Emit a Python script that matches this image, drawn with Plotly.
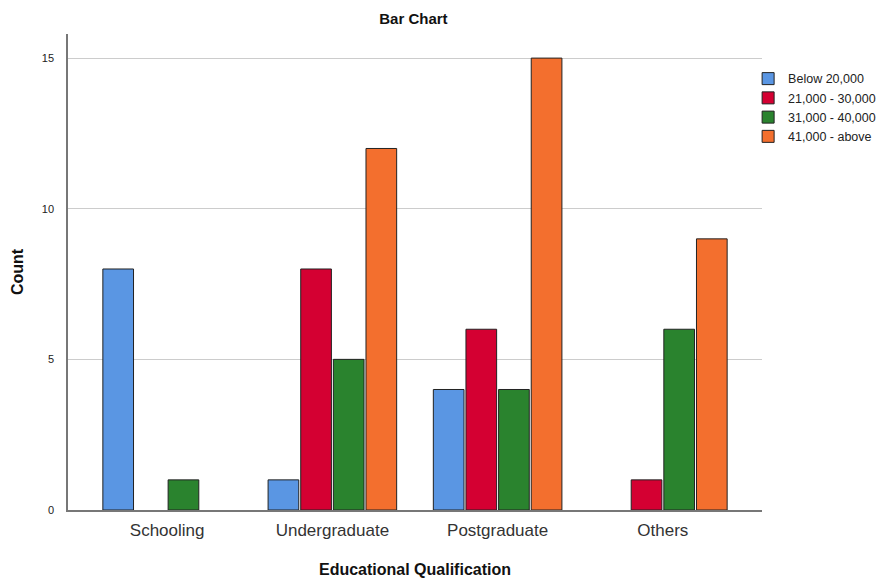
import plotly.graph_objects as go

categories = ["Schooling", "Undergraduate", "Postgraduate", "Others"]
series_names = ["Below 20,000", "21,000 - 30,000", "31,000 - 40,000", "41,000 - above"]
below_20000 = [8, 1, 4, None]
r21_30 = [None, 8, 6, 1]
r31_40 = [1, 5, 4, 6]
r41_above = [None, 12, 15, 9]
y_ticks = [0, 5, 10, 15]
colors = ["#5A96E3", "#D40032", "#2A832E", "#F36F2E"]

fig = go.Figure()
for name, vals, c in zip(series_names, [below_20000, r21_30, r31_40, r41_above], colors):
    fig.add_trace(go.Bar(x=categories, y=vals, name=name,
                         marker=dict(color=c, line=dict(color="#222222", width=1))))

fig.update_layout(
    width=891, height=579,
    margin=dict(l=68, r=129, t=34, b=69, autoexpand=False),
    paper_bgcolor="white", plot_bgcolor="white",
    barmode="group", bargap=0.21, bargroupgap=0.06,
    font=dict(family="Arial, Liberation Sans, sans-serif", color="#222222"),
    title=dict(text="<b>Bar Chart</b>", x=0.464, xanchor="center", y=0.967, yanchor="middle",
               font=dict(size=15, color="#111111")),
    legend=dict(x=0.98, y=0.937, xanchor="left", yanchor="top",
                font=dict(size=12.5, color="#222222"), tracegroupgap=0,
                itemwidth=30, bgcolor="rgba(0,0,0,0)"),
    xaxis=dict(range=[-0.6, 3.6], showline=True, linecolor="#777777", linewidth=1.5,
               ticks="", tickfont=dict(size=17, color="#333333"), ticklabelstandoff=4,
               title=dict(text="<b>Educational Qualification</b>", font=dict(size=16, color="#111111"), standoff=25)),
    yaxis=dict(range=[0, 15.8], tickvals=y_ticks, showline=True, linecolor="#777777", linewidth=1.5,
               showgrid=True, gridcolor="#CCCCCC", gridwidth=1, zeroline=False,
               ticks="", tickfont=dict(size=11, color="#222222"), ticklabelstandoff=10,
               title=dict(text="<b>Count</b>", font=dict(size=16, color="#111111"), standoff=14)),
)
fig.write_html("out.html")
